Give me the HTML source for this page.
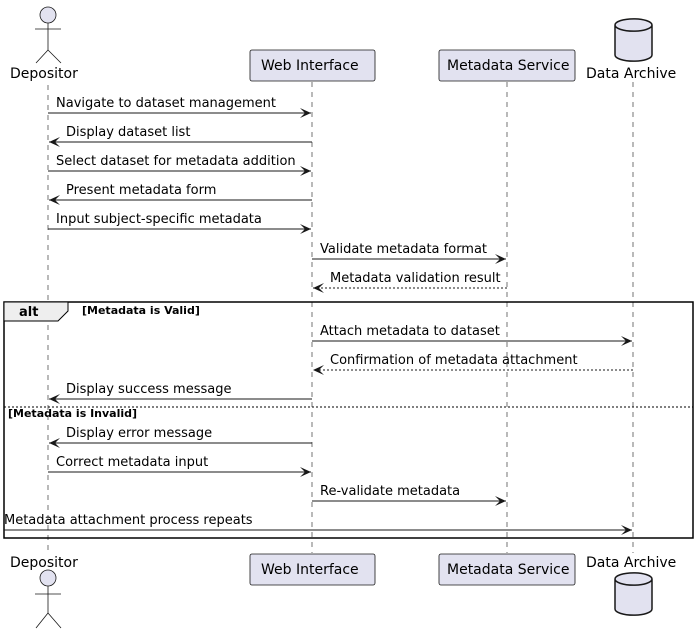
<!DOCTYPE html>
<html><head><meta charset="utf-8"><style>
html,body{margin:0;padding:0;background:#fff}
svg{display:block}
text{font-family:"DejaVu Sans","Liberation Sans",sans-serif;font-size:13px;fill:#000}
.p{font-size:14px}
.b{font-weight:bold;font-size:11px}
</style></head><body>
<svg width="698" height="634" viewBox="0 0 698 634" xmlns="http://www.w3.org/2000/svg">
<defs>
<marker id="a" markerWidth="12" markerHeight="10" refX="11" refY="5" orient="auto" markerUnits="userSpaceOnUse">
<path d="M0,0 L11,5 L0,10 L5,5 Z" fill="#181818"/></marker>
</defs>
<g stroke="#181818" stroke-width="0.6" stroke-dasharray="5,5">
<line x1="48" y1="85" x2="48" y2="552"/>
<line x1="312" y1="82" x2="312" y2="553"/>
<line x1="507" y1="82" x2="507" y2="553"/>
<line x1="633" y1="82" x2="633" y2="553"/>
</g>
<g stroke="#181818" stroke-width="0.8" fill="#E2E2F0">
<circle cx="48" cy="15" r="8"/>
<line x1="48" y1="23" x2="48" y2="50"/><line x1="35" y1="29" x2="61" y2="29"/>
<line x1="48" y1="50" x2="36" y2="63"/><line x1="48" y1="50" x2="61" y2="63"/>
<rect x="250" y="50" width="125" height="31" rx="2"/>
<rect x="439" y="50" width="136" height="31" rx="2"/>
<circle cx="48" cy="578" r="8"/>
<line x1="48" y1="586" x2="48" y2="613"/><line x1="35" y1="594" x2="61" y2="594"/>
<line x1="48" y1="613" x2="36" y2="628"/><line x1="48" y1="613" x2="61" y2="628"/>
<rect x="250" y="554" width="125" height="31" rx="2"/>
<rect x="439" y="554" width="136" height="31" rx="2"/>
</g>
<g stroke="#181818" stroke-width="1.5" fill="#E2E2F0">
<path d="M615,25 v30 a18,6 0 0 0 37,0 v-30 a18,6 0 0 0 -37,0 a18,6 0 0 0 37,0"/>
<path d="M615,579 v30 a18,6 0 0 0 37,0 v-30 a18,6 0 0 0 -37,0 a18,6 0 0 0 37,0"/>
</g>
<text class="p" x="10" y="78">Depositor</text>
<text class="p" x="261" y="70">Web Interface</text>
<text class="p" x="447" y="70">Metadata Service</text>
<text class="p" x="586" y="78">Data Archive</text>
<text class="p" x="10" y="567">Depositor</text>
<text class="p" x="261" y="574">Web Interface</text>
<text class="p" x="447" y="574">Metadata Service</text>
<text class="p" x="586" y="567">Data Archive</text>
<rect x="4" y="302" width="689" height="236" fill="none" stroke="#000" stroke-width="1.5"/>
<path d="M4,302 H68 V311 L58,321 H4 Z" fill="#EEEEEE" stroke="#000" stroke-width="1"/>
<text x="19" y="316" style="font-weight:bold">alt</text>
<text class="b" x="82" y="314">[Metadata is Valid]</text>
<line x1="4" y1="407" x2="693" y2="407" stroke="#000" stroke-width="1" stroke-dasharray="2,2"/>
<text class="b" x="8" y="417">[Metadata is Invalid]</text>
<g stroke="#181818" stroke-width="1" fill="none">
<line x1="48" y1="113" x2="311" y2="113" marker-end="url(#a)"/>
<line x1="312" y1="142" x2="49" y2="142" marker-end="url(#a)"/>
<line x1="48" y1="171" x2="311" y2="171" marker-end="url(#a)"/>
<line x1="312" y1="200" x2="49" y2="200" marker-end="url(#a)"/>
<line x1="48" y1="229" x2="311" y2="229" marker-end="url(#a)"/>
<line x1="312" y1="259" x2="506" y2="259" marker-end="url(#a)"/>
<line x1="507" y1="288" x2="313" y2="288" marker-end="url(#a)" stroke-dasharray="2,2"/>
<line x1="312" y1="341" x2="632" y2="341" marker-end="url(#a)"/>
<line x1="633" y1="370" x2="313" y2="370" marker-end="url(#a)" stroke-dasharray="2,2"/>
<line x1="312" y1="399" x2="49" y2="399" marker-end="url(#a)"/>
<line x1="312" y1="443" x2="49" y2="443" marker-end="url(#a)"/>
<line x1="48" y1="472" x2="311" y2="472" marker-end="url(#a)"/>
<line x1="312" y1="501" x2="506" y2="501" marker-end="url(#a)"/>
<line x1="4" y1="530" x2="632" y2="530" marker-end="url(#a)"/>
</g>
<text x="56" y="107">Navigate to dataset management</text>
<text x="66" y="136">Display dataset list</text>
<text x="56" y="165">Select dataset for metadata addition</text>
<text x="66" y="194">Present metadata form</text>
<text x="56" y="223">Input subject-specific metadata</text>
<text x="320" y="253">Validate metadata format</text>
<text x="330" y="282">Metadata validation result</text>
<text x="320" y="335">Attach metadata to dataset</text>
<text x="330" y="364">Confirmation of metadata attachment</text>
<text x="66" y="393">Display success message</text>
<text x="66" y="437">Display error message</text>
<text x="56" y="466">Correct metadata input</text>
<text x="320" y="495">Re-validate metadata</text>
<text x="4" y="524">Metadata attachment process repeats</text>
</svg>
</body></html>
